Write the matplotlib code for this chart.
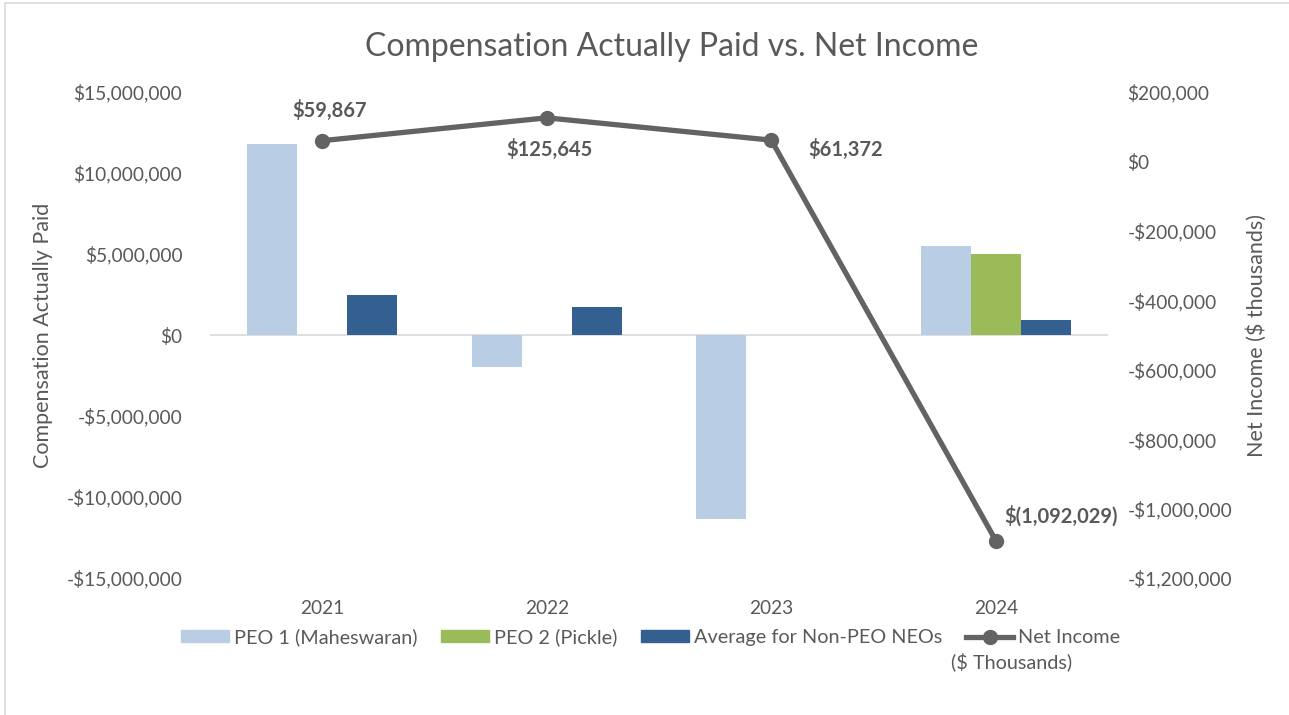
import matplotlib.pyplot as plt
import numpy as np
from matplotlib.patches import Rectangle
from matplotlib.lines import Line2D
from matplotlib.ticker import FuncFormatter

plt.rcParams['font.family'] = ['Lato', 'DejaVu Sans']

years = ["2021", "2022", "2023", "2024"]
peo1 = [11800000, -2000000, -11350000, 5500000]
peo2 = [np.nan, np.nan, np.nan, 5000000]
non_peo = [2450000, 1700000, np.nan, 950000]
net_income = [59867, 125645, 61372, -1092029]
ni_labels = ["$59,867", "$125,645", "$61,372", "$(1,092,029)"]

gray = "#595959"
c_peo1 = "#B9CDE5"
c_peo2 = "#9BBB59"
c_non = "#335F91"
c_line = "#636363"

fig = plt.figure(figsize=(12.89, 7.15), dpi=100)
ax = fig.add_axes([0.163, 0.1916, 0.6966, 0.6797])
ax2 = ax.twinx()

x = np.arange(len(years))
w = 0.223
ax.bar(x - w, peo1, w, color=c_peo1, zorder=2)
ax.bar(x, peo2, w, color=c_peo2, zorder=2)
ax.bar(x + w, non_peo, w, color=c_non, zorder=2)
ax.axhline(0, color="#D9D9D9", lw=1.2, zorder=1)

ax.set_xlim(-0.5, 3.5)
ax.set_ylim(-15000000, 15000000)
ax.set_yticks(np.arange(-15000000, 15000001, 5000000))


def money(v, pos=None):
    v = int(round(v))
    if v < 0:
        return "-${:,}".format(-v)
    return "${:,}".format(v)


ax.yaxis.set_major_formatter(FuncFormatter(money))
ax.set_xticks(x)
ax.set_xticklabels(years)

ax2.plot(x, net_income, color=c_line, lw=3.8, marker="o", markersize=10, zorder=5)
ax2.set_ylim(-1200000, 200000)
ax2.set_yticks(np.arange(-1200000, 200001, 200000))
ax2.yaxis.set_major_formatter(FuncFormatter(money))

for a in (ax, ax2):
    for s in a.spines.values():
        s.set_visible(False)
    a.tick_params(length=0, labelsize=13.8, labelcolor=gray)
ax.tick_params(axis="y", pad=20)
ax.tick_params(axis="x", pad=16)
ax2.tick_params(axis="y", pad=14)

ax.set_ylabel("Compensation Actually Paid", fontsize=15.5, color=gray, labelpad=10)
ax2.set_ylabel("Net Income ($ thousands)", fontsize=15.5, color=gray, labelpad=10)

# data labels for the net income line
offsets = [(5, 22, "center"), (2, -23, "center"), (27, -7, "left"), (6, 18, "left")]
for i, (dx, dy, ha) in enumerate(offsets):
    ax2.annotate(ni_labels[i], (x[i], net_income[i]), xytext=(dx, dy),
                 textcoords="offset points", ha=ha, va="center",
                 fontsize=14.5, fontweight="bold", color=gray)

fig.text(0.521, 0.934, "Compensation Actually Paid vs. Net Income", ha="center", va="center",
         fontsize=23, color=gray)

handles = [Rectangle((0, 0), 1, 1, color=c_peo1),
           Rectangle((0, 0), 1, 1, color=c_peo2),
           Rectangle((0, 0), 1, 1, color=c_non),
           Line2D([], [], color=c_line, lw=3.8, marker="o", markersize=10)]
labels = ["PEO 1 (Maheswaran)", "PEO 2 (Pickle)", "Average for Non-PEO NEOs", "Net Income"]
leg = fig.legend(handles, labels, ncol=4, loc="center", bbox_to_anchor=(0.505, 0.109),
                 frameon=False, fontsize=14.3, handlelength=2.4, handleheight=0.55,
                 handletextpad=0.25, columnspacing=1.2)
for t in leg.get_texts():
    t.set_color(gray)
fig.text(0.738, 0.074, "($ Thousands)", ha="left", va="center", fontsize=14.3, color=gray)

fig.patches.append(Rectangle((0.004, -0.01), 1.0, 1.006, transform=fig.transFigure,
                             fill=False, edgecolor="#D9D9D9", lw=1.2))

fig.savefig("out.png", dpi=100)
